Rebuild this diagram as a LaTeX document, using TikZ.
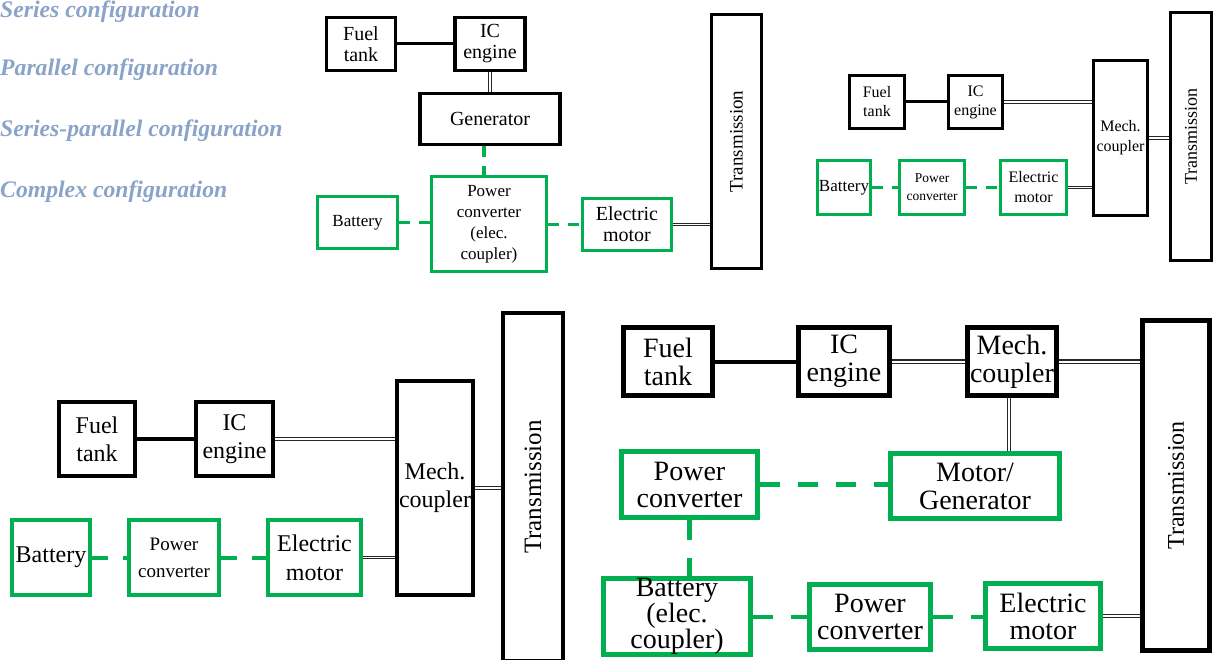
\documentclass[tikz,border=0pt]{standalone}
\usepackage{fontspec}
\usepackage{graphicx}
\setmainfont{Liberation Serif}
\definecolor{elecgreen}{RGB}{0,176,80}
\definecolor{cfgblue}{RGB}{138,163,200}
\newcommand{\boxfont}[2]{\fontsize{#1}{#2}\selectfont}

\begin{document}
\begin{tikzpicture}[x=1pt, y=-1pt]
            \tikzset{
              mech/.style={draw, align=center, inner sep=0pt},
              elec/.style={draw=elecgreen, align=center, inner sep=0pt},
              sz/.style 2 args={minimum width=#1pt, minimum height=#2pt},
              fuelline/.style={draw, line width=3pt},
              shaft/.style={draw=black!85, double=white, line width=0.9pt, double distance=1.8pt},
              wire/.style={draw=elecgreen, line width=3.5pt, dash pattern=on 11pt off 9pt},
              cfg/.style={anchor=base west, inner sep=0pt, text=cfgblue, font=\bfseries\itshape\boxfont{23.7}{24}}
            }
            \useasboundingbox (0,0) rectangle (1218,660);

            \node[cfg] (cs) at (0,17.5) {Series configuration};
            \node[cfg] (cp) at (0,76) {Parallel configuration};
            \node[cfg] (csp) at (0,137) {Series-parallel configuration};
            \node[cfg] (cc) at (0,198) {Complex configuration};

            % series
            \begin{scope}[mech/.append style={line width=3.3pt}, elec/.append style={line width=3pt}]
                \node[mech, sz={69}{53}, font=\boxfont{20}{21}] (ftS) at (361,44) {Fuel\\tank};
                \node[mech, sz={70}{53}, font=\boxfont{20}{21}] (icS) at (490,44) {IC\\engine};
                \node[mech, sz={140}{51}, font=\boxfont{20}{21}] (genS) at (490,119) {Generator};
                \node[elec, sz={115}{95}, font=\boxfont{17}{21}] (pcS) at (489,224) {Power\\converter\\(elec.\\coupler)};
                \node[elec, sz={80}{52}, font=\boxfont{17}{20}] (batS) at (357.5,222.5) {Battery};
                \node[elec, sz={89}{52}, font=\boxfont{20}{21}] (emS) at (627,224.5) {Electric\\motor};
                \node[mech, sz={50}{254}, font=\boxfont{19}{20}] (trS) at (736.5,141.5) {\rotatebox{90}{Transmission}};

                \draw[fuelline] (ftS) -- (icS);
                \draw[shaft] (icS) -- (genS);
                \draw[wire] ([xshift=-6pt]genS.south) -- ([xshift=-6pt]genS.south |- pcS.north);
                \draw[wire] (batS.east) -- (batS.east -| pcS.west);
                \draw[wire] (pcS.east |- emS.west) -- (emS.west);
                \draw[shaft] (emS.east) -- (emS.east -| trS.west);
            \end{scope}

            % parallel
            \begin{scope}[mech/.append style={line width=3pt}, elec/.append style={line width=3pt}, wire/.append style={line width=3pt}]
                \node[mech, sz={55}{53}, font=\boxfont{16}{19}] (ftP) at (877,102) {Fuel\\tank};
                \node[mech, sz={54}{53}, font=\boxfont{16}{19}] (icP) at (975.5,102) {IC\\engine};
                \node[mech, sz={54}{155}, font=\boxfont{16}{20}] (mcP) at (1120.5,138) {Mech.\\coupler};
                \node[mech, sz={41}{248}, font=\boxfont{18}{19}] (trP) at (1191,136.5) {\rotatebox{90}{Transmission}};
                \node[elec, sz={53}{54}, font=\boxfont{17}{19}] (batP) at (844,187.5) {Battery};
                \node[elec, sz={65}{54}, font=\boxfont{13.5}{18}] (pcP) at (932,187.5) {Power\\converter};
                \node[elec, sz={66}{54}, font=\boxfont{16}{20}] (emP) at (1033.5,187.5) {Electric\\motor};

                \draw[fuelline] (ftP) -- (icP);
                \draw[shaft] (icP.east) -- (icP.east -| mcP.west);
                \draw[shaft] (mcP.east) -- (mcP.east -| trP.west);
                \draw[wire] (batP) -- (pcP);
                \draw[wire] (pcP) -- (emP);
                \draw[shaft] (emP.east) -- (emP.east -| mcP.west);
            \end{scope}

            % series-parallel
            \begin{scope}[mech/.append style={line width=4.2pt}, elec/.append style={line width=3.6pt},
                          wire/.append style={line width=4pt, dash pattern=on 16pt off 15pt}, fuelline/.append style={line width=3.6pt}]
                \node[mech, sz={76}{74}, font=\boxfont{24}{28}] (ftSP) at (97,439) {Fuel\\tank};
                \node[mech, sz={77}{74}, font=\boxfont{24}{28}] (icSP) at (234.5,439) {IC\\engine};
                \node[mech, sz={76}{214}, font=\boxfont{24}{28}] (mcSP) at (435,488) {Mech.\\coupler};
                \node[mech, sz={60}{348}, font=\boxfont{25}{26}] (trSP) at (533,487) {\rotatebox{90}{Transmission}};
                \node[elec, sz={78}{75}, font=\boxfont{24}{28}] (batSP) at (51,557.5) {Battery};
                \node[elec, sz={90}{75}, font=\boxfont{19}{27}] (pcSP) at (174,557.5) {Power\\converter};
                \node[elec, sz={93}{75}, font=\boxfont{24}{29}] (emSP) at (314.5,557.5) {Electric\\motor};

                \draw[fuelline] (ftSP) -- (icSP);
                \draw[shaft] (icSP.east) -- (icSP.east -| mcSP.west);
                \draw[shaft] (mcSP.east) -- (mcSP.east -| trSP.west);
                \draw[wire] (batSP) -- (pcSP);
                \draw[wire] (pcSP) -- (emSP);
                \draw[shaft] (emSP.east) -- (emSP.east -| mcSP.west);
            \end{scope}

            % complex
            \begin{scope}[mech/.append style={line width=5pt}, elec/.append style={line width=4.5pt},
                          wire/.append style={line width=4.5pt, dash pattern=on 20pt off 18pt}, fuelline/.append style={line width=4pt},
                          shaft/.append style={line width=1.2pt, double distance=2pt}]
                \node[mech, sz={89}{68}, font=\boxfont{28}{28}] (ftC) at (668,361.5) {Fuel\\tank};
                \node[mech, sz={91}{68}, font=\boxfont{28}{28}] (icC) at (844,361.5) {IC\\engine};
                \node[mech, sz={89}{68}, font=\boxfont{28}{28}] (mcC) at (1012,361.5) {Mech.\\coupler};
                \node[mech, sz={67}{330}, font=\boxfont{24}{25}] (trC) at (1176,485.5) {\rotatebox{90}{Transmission}};
                \node[elec, sz={136}{66}, font=\boxfont{28}{27}] (pcaC) at (689.5,484.5) {Power\\converter};
                \node[elec, sz={169}{65}, font=\boxfont{28}{28}] (mgC) at (975,486) {Motor/\\Generator};
                \node[elec, sz={147}{76}, font=\boxfont{28}{26}] (batC) at (677,616.5) {Battery\\(elec.\\coupler)};
                \node[elec, sz={121}{65}, font=\boxfont{28}{27}] (pcbC) at (870,617) {Power\\converter};
                \node[elec, sz={115}{65}, font=\boxfont{28}{27}] (emC) at (1043,616) {Electric\\motor};

                \draw[fuelline] (ftC) -- (icC);
                \draw[shaft] (icC) -- (mcC);
                \draw[shaft] (mcC.east) -- (mcC.east -| trC.west);
                \draw[shaft] ([xshift=-3pt]mcC.south) -- ([xshift=-3pt]mcC.south |- mgC.north);
                \draw[wire] (pcaC.east) -- (pcaC.east -| mgC.west);
                \draw[wire] (pcaC.south) -- (pcaC.south |- batC.north);
                \draw[wire] (pcbC.west -| batC.east) -- (pcbC.west);
                \draw[wire] (pcbC.east) -- (pcbC.east -| emC.west);
                \draw[shaft] (emC.east) -- (emC.east -| trC.west);
            \end{scope}
\end{tikzpicture}
\end{document}
